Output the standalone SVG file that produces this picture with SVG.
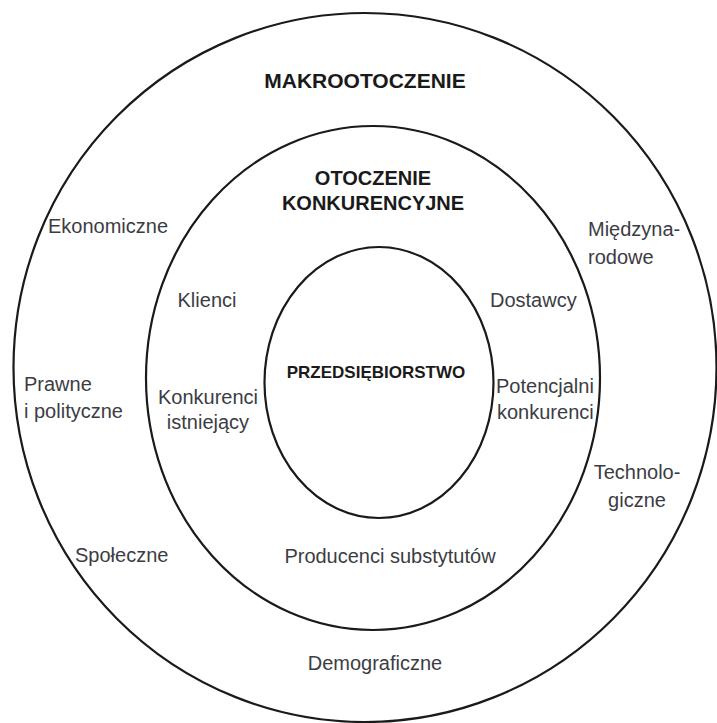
<svg xmlns="http://www.w3.org/2000/svg" width="717" height="723" viewBox="0 0 717 723">
  <style>
    .ring { fill: none; stroke: #1a1a1a; stroke-width: 2.2; }
    .lbl { font-family: "Liberation Sans", Arial, sans-serif; font-size: 20px; fill: #3c3c44; }
    .hdr { font-family: "Liberation Sans", Arial, sans-serif; font-weight: bold; fill: #1a1a1a; text-anchor: middle; }
    .mid { text-anchor: middle; }
  </style>
  <rect x="0" y="0" width="717" height="723" fill="#ffffff"/>
  <g id="makrootoczenie">
    <ellipse class="ring" cx="365" cy="367.5" rx="351.5" ry="354.5"/>
    <text class="hdr" x="365" y="88" font-size="21">MAKROOTOCZENIE</text>
    <text class="lbl" x="48" y="233">Ekonomiczne</text>
    <text class="lbl" x="588" y="236">Międzyna-</text>
    <text class="lbl" x="588" y="264">rodowe</text>
    <text class="lbl" x="24" y="391">Prawne</text>
    <text class="lbl" x="24" y="418">i polityczne</text>
    <text class="lbl mid" x="637" y="479">Technolo-</text>
    <text class="lbl mid" x="637" y="507">giczne</text>
    <text class="lbl" x="75" y="562">Społeczne</text>
    <text class="lbl mid" x="375" y="670">Demograficzne</text>
  </g>
  <g id="otoczenie-konkurencyjne">
    <ellipse class="ring" cx="373" cy="378" rx="227" ry="252"/>
    <text class="hdr" x="373" y="185" font-size="20">OTOCZENIE</text>
    <text class="hdr" x="373" y="210" font-size="20">KONKURENCYJNE</text>
    <text class="lbl mid" x="207" y="307">Klienci</text>
    <text class="lbl" x="490" y="307">Dostawcy</text>
    <text class="lbl mid" x="208" y="404">Konkurenci</text>
    <text class="lbl mid" x="208" y="429">istniejący</text>
    <text class="lbl" x="496" y="393">Potencjalni</text>
    <text class="lbl" x="497" y="419">konkurenci</text>
    <text class="lbl mid" x="390" y="563">Producenci substytutów</text>
  </g>
  <g id="przedsiebiorstwo">
    <ellipse class="ring" cx="379" cy="382.5" rx="114.5" ry="135.5"/>
    <text class="hdr" x="376" y="378" font-size="17">PRZEDSIĘBIORSTWO</text>
  </g>
  <g id="connectors"/>
</svg>
